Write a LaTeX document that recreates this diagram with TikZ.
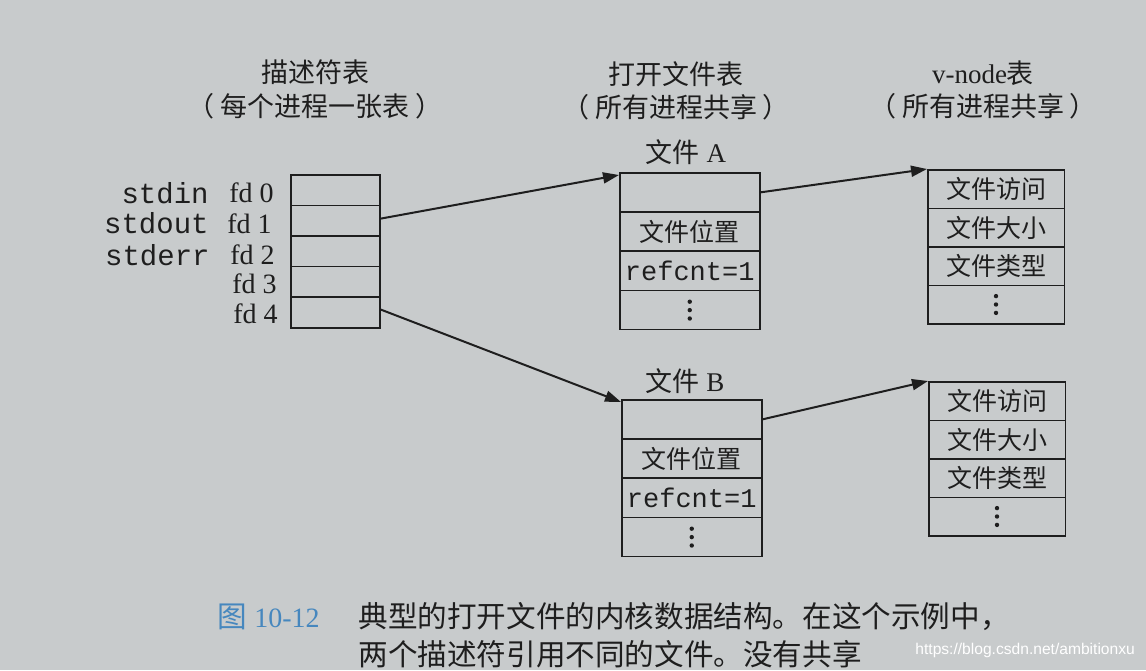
\documentclass[tikz,border=0pt]{standalone}
\usepackage{fontspec}
\setmainfont{Liberation Serif}
\setmonofont{Liberation Mono}
\newfontfamily\cjk{Noto Sans CJK SC}
\newfontfamily\wmfont{Liberation Sans}
\usetikzlibrary{arrows.meta}
\definecolor{bg}{RGB}{200,203,204}
\definecolor{ink}{RGB}{30,30,30}
\definecolor{capblue}{RGB}{70,135,190}
\newcommand{\celldots}[1]{%
  \foreach \k in {-1,0,1}
    \fill[ink] ([yshift=\k*4.2pt]#1.center) circle (1.1pt);}
\begin{document}
\begin{tikzpicture}[x=0.5pt,y=-0.5pt,
  every node/.style={inner sep=0pt, text=ink},
  title/.style={font=\fontsize{13.5}{15}\selectfont},
  cell/.style={draw=ink, line width=0.75pt, anchor=north west, inner sep=0pt},
  dcell/.style={cell, minimum width=44.5pt, minimum height=15.3pt},
  fcell/.style={cell, minimum width=70pt, minimum height=19.6pt, font=\fontsize{12.5}{14}\selectfont},
  vcell/.style={cell, minimum width=68.25pt, minimum height=19.25pt, font=\fontsize{12.5}{14}\selectfont},
  stdlbl/.style={anchor=base east, font=\fontsize{14.5}{16}\selectfont\ttfamily},
  fdlbl/.style={anchor=base east, font=\fontsize{14}{16}\selectfont},
  arr/.style={draw=ink, line width=1pt, -{Triangle[length=8pt,width=5.5pt]}},
  capfont/.style={anchor=west, font=\fontsize{14.8}{17}\selectfont}
]
\fill[bg] (0,0) rectangle (1146,670);
\useasboundingbox (0,0) rectangle (1146,670);

% titles
\node[title] (t1)  at (315,72)  {\cjk 描述符表};
\node[title] (t1b) at (315,106) {\cjk （\kern3pt 每个进程一张表\kern3pt ）};
\node[title] (t2)  at (676,74)  {\cjk 打开文件表};
\node[title] (t2b) at (676,107) {\cjk （\kern3pt 所有进程共享\kern3pt ）};
\node[title] (t3)  at (983,73)  {v-node{\cjk 表}};
\node[title] (t3b) at (983,106) {\cjk （\kern3pt 所有进程共享\kern3pt ）};
\node[title] (fa)  at (686,152) {{\cjk 文件} A};
\node[title] (fb)  at (685,381) {{\cjk 文件} B};

% descriptor table
\foreach \i in {0,...,4}
  \node[dcell] (d\i) at (290,{174+\i*30.6}) {};

\node[stdlbl] (s0) at (209,203) {stdin};
\node[stdlbl] (s1) at (209,233) {stdout};
\node[stdlbl] (s2) at (210,265) {stderr};
\node[fdlbl] (f0) at (274,202) {fd 0};
\node[fdlbl] (f1) at (272,233) {fd 1};
\node[fdlbl] (f2) at (275,264) {fd 2};
\node[fdlbl] (f3) at (277,293) {fd 3};
\node[fdlbl] (f4) at (278,323) {fd 4};

% file A
\node[fcell] (a0) at (619,172) {};
\node[fcell] (a1) at (619,211.25) {\cjk 文件位置};
\node[fcell] (a2) at (619,250.5) {\fontsize{13.5}{15}\selectfont\ttfamily refcnt=1};
\node[fcell] (a3) at (619,289.75) {};
\celldots{a3}

% v-node A
\node[vcell] (va0) at (927,169) {\cjk 文件访问};
\node[vcell] (va1) at (927,207.5) {\cjk 文件大小};
\node[vcell] (va2) at (927,246) {\cjk 文件类型};
\node[vcell] (va3) at (927,284.5) {};
\celldots{va3}

% file B
\node[fcell] (b0) at (621,399) {};
\node[fcell] (b1) at (621,438.25) {\cjk 文件位置};
\node[fcell] (b2) at (621,477.5) {\fontsize{13.5}{15}\selectfont\ttfamily refcnt=1};
\node[fcell] (b3) at (621,516.75) {};
\celldots{b3}

% v-node B
\node[vcell] (vb0) at (928,381) {\cjk 文件访问};
\node[vcell] (vb1) at (928,419.5) {\cjk 文件大小};
\node[vcell] (vb2) at (928,458) {\cjk 文件类型};
\node[vcell] (vb3) at (928,496.5) {};
\celldots{vb3}

% connectors
\draw[arr] ([yshift=1pt]d1.east) -- ([yshift=-1.5pt]a0.north west);
\draw[arr] (a0.east) -- (va0.north west);
\draw[arr] ([yshift=1.5pt]d4.east) -- ([yshift=-1.5pt]b0.north west);
\draw[arr] (b0.east) -- (vb0.north west);

% caption
\node[capfont, text=capblue] (fig) at (217,617) {{\cjk 图} {\fontsize{14}{16}\selectfont 10-12}};
\node[capfont] (cap1) at (358,617) {\cjk 典型的打开文件的内核数据结构。在这个示例中，};
\node[capfont] (cap2) at (358,654) {\cjk 两个描述符引用不同的文件。没有共享};
\node[anchor=west, text=white, font=\fontsize{7.8}{9}\selectfont\wmfont] (wm) at (915,650) {https://blog.csdn.net/ambitionxu};
\end{tikzpicture}
\end{document}
